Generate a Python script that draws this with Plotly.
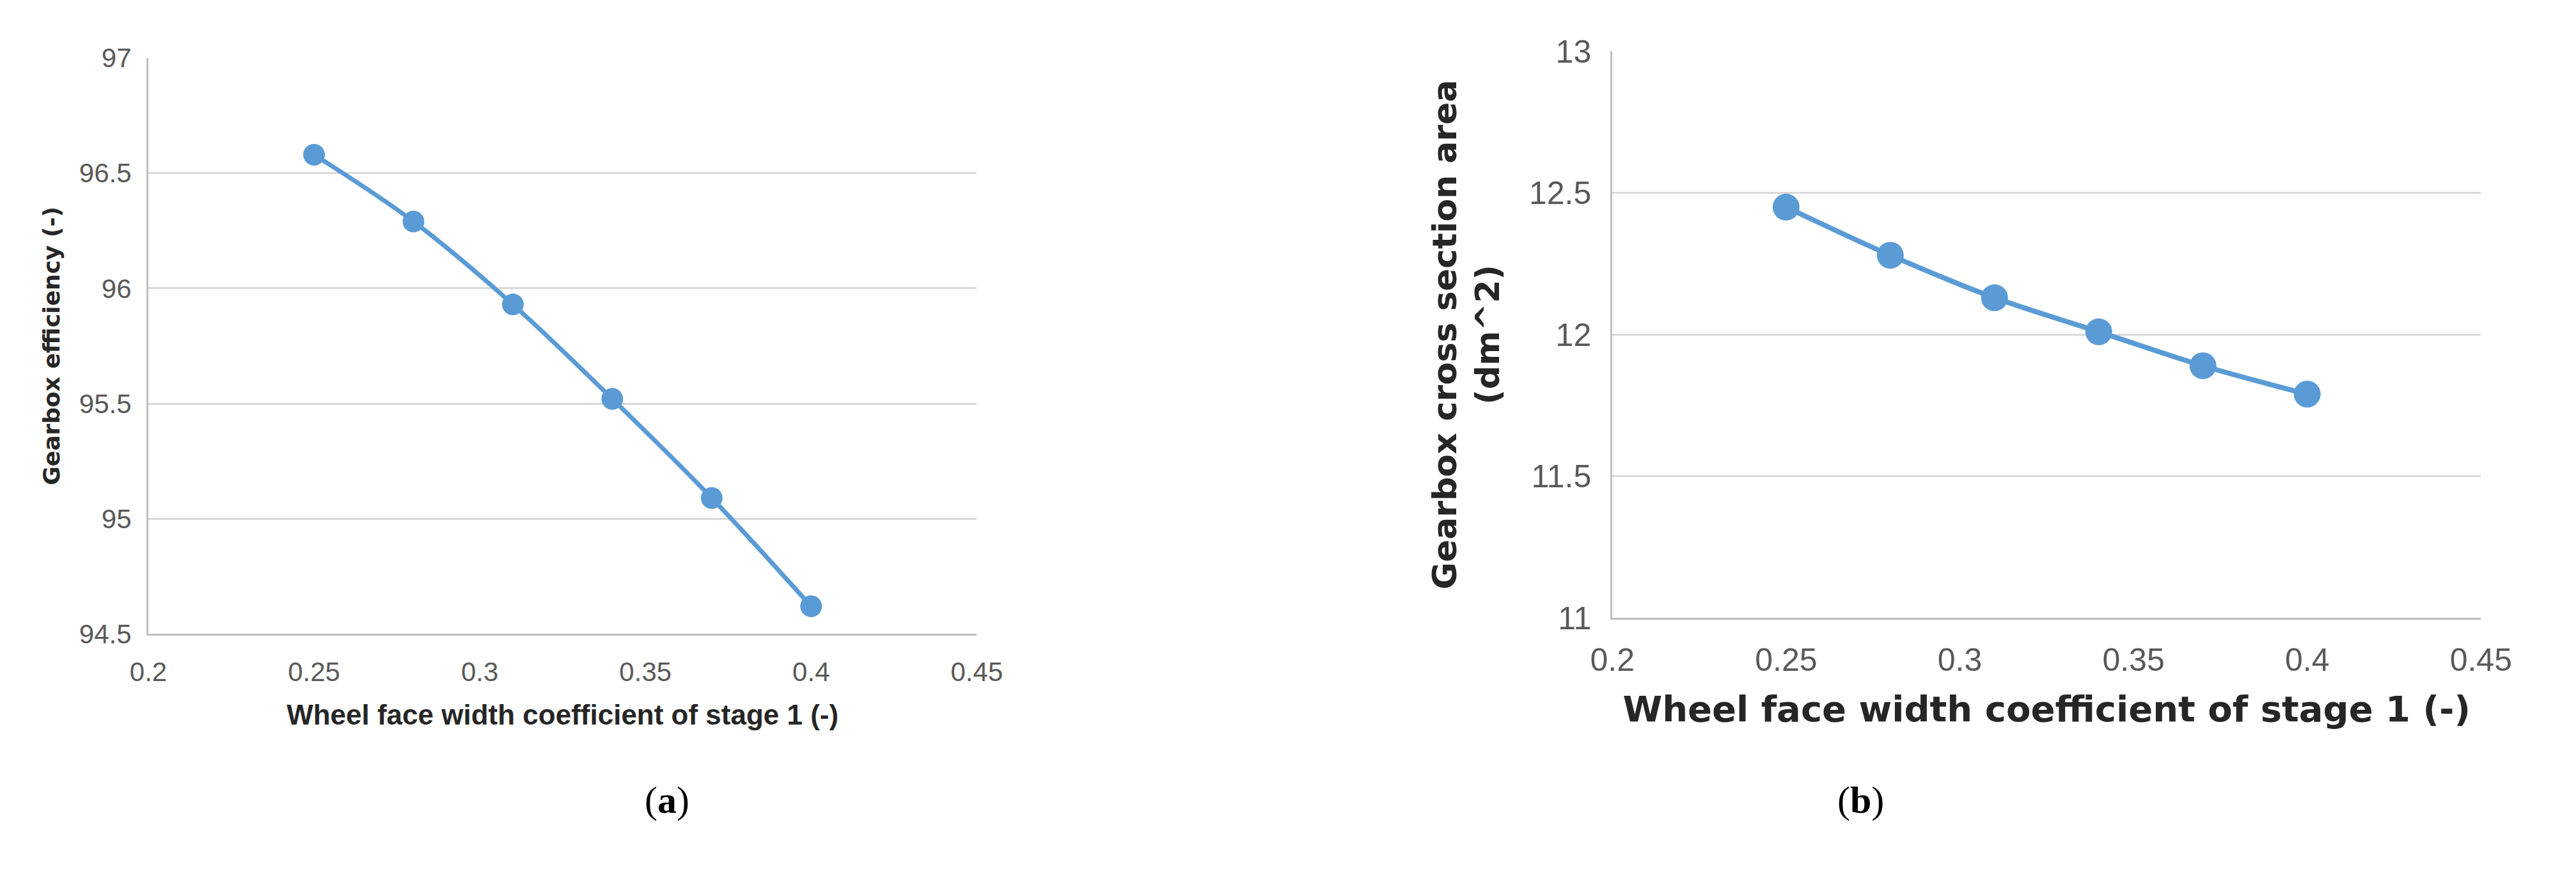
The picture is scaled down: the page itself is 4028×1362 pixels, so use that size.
import plotly.graph_objects as go

x_vals = [0.25, 0.28, 0.31, 0.34, 0.37, 0.40]
efficiency = [96.58, 96.29, 95.93, 95.52, 95.09, 94.62]
area = [12.45, 12.28, 12.13, 12.01, 11.89, 11.79]
y1_ticks = [94.5, 95, 95.5, 96, 96.5, 97]
y1_labels = ["94.5", "95", "95.5", "96", "96.5", "97"]
y2_ticks = [11, 11.5, 12, 12.5, 13]
y2_labels = ["11", "11.5", "12", "12.5", "13"]
x_ticks = [0.2, 0.25, 0.3, 0.35, 0.4, 0.45]
x_labels = ["0.2", "0.25", "0.3", "0.35", "0.4", "0.45"]

W, H = 4028, 1362
blue = "#5B9BD5"
fig = go.Figure()
fig.add_trace(go.Scatter(x=x_vals, y=efficiency, mode="lines+markers", line=dict(color=blue, width=7, shape="spline"),
                         marker=dict(size=34, color=blue), xaxis="x", yaxis="y", showlegend=False))
fig.add_trace(go.Scatter(x=x_vals, y=area, mode="lines+markers", line=dict(color=blue, width=8, shape="spline"),
                         marker=dict(size=42, color=blue), xaxis="x2", yaxis="y2", showlegend=False))

tickf = dict(family="Liberation Sans Narrow, Arial Narrow, sans-serif", color="#595959")
common = dict(showline=True, linecolor="#BFBFBF", linewidth=3, ticks="", zeroline=False)
fig.update_layout(
    width=W, height=H, paper_bgcolor="white", plot_bgcolor="white",
    margin=dict(l=0, r=0, t=0, b=0),
    xaxis=dict(domain=[193/W, 1516/W], range=[0.2, 0.45], tickvals=x_ticks, ticktext=x_labels, showgrid=False, anchor="y",
               tickfont=dict(size=42, **tickf), ticklabelstandoff=20, **common,
               title=dict(text="<b>Wheel face width coefficient of stage 1 (-)</b>", font=dict(size=44, color="#262626", family="Liberation Sans Narrow, sans-serif"), standoff=30)),
    yaxis=dict(domain=[1-997/H, 1-57/H], range=[94.5, 97], tickvals=y1_ticks, ticktext=y1_labels, showgrid=True, gridcolor="#D9D9D9", gridwidth=3, anchor="x",
               tickfont=dict(size=42, **tickf), ticklabelstandoff=15, **common,
               title=dict(text="<b>Gearbox efficiency (-)</b>", font=dict(size=36, color="#262626", family="DejaVu Sans, sans-serif"), standoff=20)),
    xaxis2=dict(domain=[2531/W, 3918/W], range=[0.2, 0.45], tickvals=x_ticks, ticktext=x_labels, showgrid=False, anchor="y2",
                tickfont=dict(size=50, **tickf), ticklabelstandoff=20, **common,
                title=dict(text="<b>Wheel face width coefficient of stage 1 (-)</b>", font=dict(size=56, color="#262626", family="DejaVu Sans, sans-serif"), standoff=30)),
    yaxis2=dict(domain=[1-971/H, 1-46/H], range=[11, 13], tickvals=y2_ticks, ticktext=y2_labels, showgrid=True, gridcolor="#D9D9D9", gridwidth=3, anchor="x2",
                tickfont=dict(size=50, **tickf), ticklabelstandoff=20, **common,
                title=dict(text="<b>Gearbox cross section area<br>(dm^2)</b>", font=dict(size=52, color="#262626", family="DejaVu Sans, sans-serif"), standoff=30)),
)
fig.add_annotation(text="(<b>a</b>)", x=984/W, y=1-1305/H, xref="paper", yref="paper", showarrow=False,
                   font=dict(size=60, family="Liberation Serif, serif", color="black"))
fig.add_annotation(text="(<b>b</b>)", x=2967/W, y=1-1305/H, xref="paper", yref="paper", showarrow=False,
                   font=dict(size=60, family="Liberation Serif, serif", color="black"))
fig.write_html("out.html")
